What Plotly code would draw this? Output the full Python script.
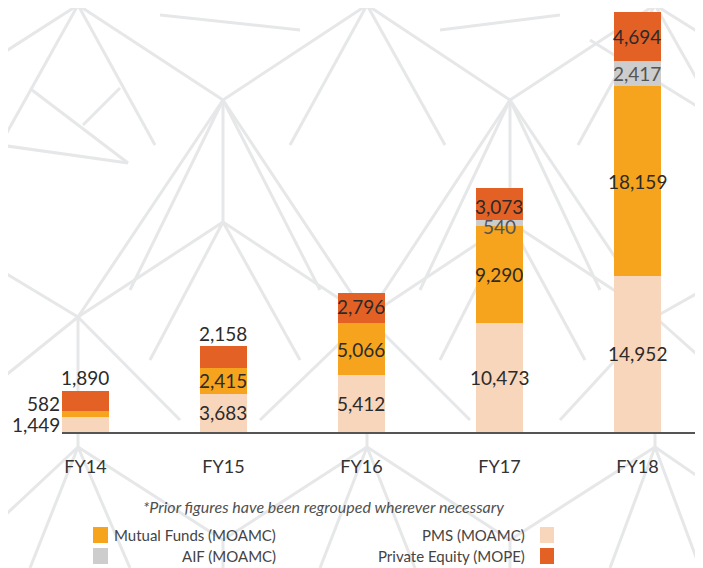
import plotly.graph_objects as go

# data
years = ["FY14", "FY15", "FY16", "FY17", "FY18"]
pms = [1449, 3683, 5412, 10473, 14952]
mutual_funds = [582, 2415, 5066, 9290, 18159]
aif = [0, 0, 0, 540, 2417]
private_equity = [1890, 2158, 2796, 3073, 4694]

series_names = ["PMS (MOAMC)", "Mutual Funds (MOAMC)", "AIF (MOAMC)", "Private Equity (MOPE)"]
colors = {"PMS (MOAMC)": "#F8D6BC", "Mutual Funds (MOAMC)": "#F6A31D",
          "AIF (MOAMC)": "#CDCDCD", "Private Equity (MOPE)": "#E46125"}
footnote = "*Prior figures have been regrouped wherever necessary"

# page body adds an 8px margin, so the figure is drawn 8px smaller and offset
OFF = 8
W, H = 703 - OFF, 568 - OFF
L, R, T, B = 62 - OFF, 0, 0, 136
PW, PH = W - L - R, H - T - B
FONT = "Lato, 'Open Sans', sans-serif"


def px(x, y):
    """reference pixel -> paper coords"""
    return (x - OFF - L) / PW, (H - B - (y - OFF)) / PH


fig = go.Figure()
values = [pms, mutual_funds, aif, private_equity]
for name, vals in zip(series_names, values):
    fig.add_trace(go.Bar(x=list(range(len(years))), y=vals, name=name,
                         marker=dict(color=colors[name], line=dict(width=0)),
                         width=0.34, showlegend=False, hoverinfo="y+name"))

# value labels
for i, yr in enumerate(years):
    base = 0
    for name, vals in zip(series_names, values):
        v = vals[i]
        if v == 0:
            continue
        txt = f"{v:,}"
        col = "#555555" if name == "AIF (MOAMC)" else "#2b2b2b"
        ann = dict(x=i, y=base + v / 2, text=txt, showarrow=False, yanchor="middle",
                   font=dict(family=FONT, size=19, color=col))
        if yr == "FY14":
            if name == "Private Equity (MOPE)":
                ann.update(y=base + v, yanchor="bottom")
            else:
                ann.update(xanchor="right", xshift=-23)
                if name == "Mutual Funds (MOAMC)":
                    ann.update(yshift=10)
        elif yr == "FY15" and name == "Private Equity (MOPE)":
            ann.update(y=base + v, yanchor="bottom", yshift=-1)
        elif yr == "FY16" and name == "Private Equity (MOPE)":
            ann.update(yshift=1)
        elif yr == "FY17" and name == "Private Equity (MOPE)":
            ann.update(yshift=-3)
        elif yr == "FY17" and name == "AIF (MOAMC)":
            ann.update(yshift=-4)
        fig.add_annotation(**ann)
        base += v

# background geometric pattern (decoration, reference pixel coords)
segments = [
    ((78, 5), (223, 100)), ((223, 100), (367, 5)), ((367, 5), (510, 100)), ((510, 100), (655, 5)),
    ((78, 5), (0, 145)), ((78, 5), (155, 145)), ((0, 55), (78, 5)), ((367, 5), (290, 145)),
    ((367, 5), (445, 145)), ((655, 5), (578, 145)), ((655, 5), (703, 90)), ((655, 5), (703, 35)),
    ((223, 100), (223, 222)), ((510, 100), (510, 222)),
    ((223, 100), (78, 317)), ((223, 100), (367, 317)), ((510, 100), (367, 317)), ((510, 100), (655, 317)),
    ((223, 100), (130, 290)), ((223, 100), (320, 290)), ((510, 100), (420, 290)), ((510, 100), (600, 290)),
    ((0, 145), (128, 163)), ((32, 90), (128, 163)), ((83, 125), (120, 88)),
    ((223, 222), (78, 317)), ((223, 222), (367, 317)), ((510, 222), (367, 317)), ((510, 222), (655, 317)),
    ((223, 222), (150, 360)), ((223, 222), (300, 360)), ((510, 222), (440, 360)), ((510, 222), (585, 360)),
    ((78, 317), (0, 270)), ((78, 317), (0, 380)), ((78, 317), (78, 447)), ((367, 317), (367, 447)),
    ((655, 317), (655, 447)), ((655, 317), (703, 290)), ((655, 317), (703, 360)),
    ((78, 317), (180, 420)), ((367, 317), (260, 420)), ((367, 317), (470, 420)), ((655, 317), (560, 420)),
    ((78, 447), (223, 540)), ((223, 540), (367, 447)), ((367, 447), (510, 540)), ((510, 540), (655, 447)),
    ((78, 447), (0, 520)), ((655, 447), (703, 480)),
    ((78, 447), (30, 568)), ((78, 447), (130, 568)), ((367, 447), (320, 568)), ((367, 447), (415, 568)),
    ((655, 447), (610, 568)), ((655, 447), (700, 568)),
    ((223, 540), (223, 568)), ((510, 540), (510, 568)),
    ((590, 40), (703, 110)), ((440, 30), (560, 15)), ((160, 15), (300, 30)),
]
for (x0, y0), (x1, y1) in segments:
    a0, b0 = px(x0, y0)
    a1, b1 = px(x1, y1)
    fig.add_shape(type="line", xref="paper", yref="paper", x0=a0, y0=b0, x1=a1, y1=b1,
                  line=dict(color="#E6E7E8", width=3), layer="below")

# footnote
fx, fy = px(323, 506)
fig.add_annotation(xref="paper", yref="paper", x=fx, y=fy, text="<i>" + footnote + "</i>",
                   xanchor="center", yanchor="middle", showarrow=False,
                   font=dict(family=FONT, size=16, color="#505050"))

# custom legend
legend_rows = [
    ("Mutual Funds (MOAMC)", "left", 535), ("AIF (MOAMC)", "left", 556),
    ("PMS (MOAMC)", "right", 535), ("Private Equity (MOPE)", "right", 556),
]
for name, side, cy in legend_rows:
    if side == "left":
        sx0, sx1, tx = 93, 108, 278
    else:
        sx0, sx1, tx = 540, 554, 527
    a0, b0 = px(sx0, cy - 8)
    a1, b1 = px(sx1, cy + 8)
    fig.add_shape(type="rect", xref="paper", yref="paper", x0=a0, y0=b0, x1=a1, y1=b1,
                  fillcolor=colors[name], line=dict(width=0))
    ax, ay = px(tx, cy)
    fig.add_annotation(xref="paper", yref="paper", x=ax, y=ay, text=name,
                       xanchor="right", yanchor="middle",
                       showarrow=False, font=dict(family=FONT, size=15, color="#444444"))

fig.update_layout(
    width=W, height=H, barmode="stack",
    margin=dict(l=L, r=R, t=T, b=B, pad=0),
    paper_bgcolor="white", plot_bgcolor="rgba(0,0,0,0)",
)
fig.update_xaxes(range=[-0.17, 4.475], tickvals=list(range(len(years))), ticktext=years,
                 showgrid=False, zeroline=False, showline=True, linecolor="#555555", linewidth=1.5,
                 ticks="", ticklabelstandoff=18,
                 tickfont=dict(family=FONT, size=18, color="#333333"))
fig.update_yaxes(range=[0, 424 / (420 / 40222)], visible=False, showgrid=False)

fig.write_html("out.html")
